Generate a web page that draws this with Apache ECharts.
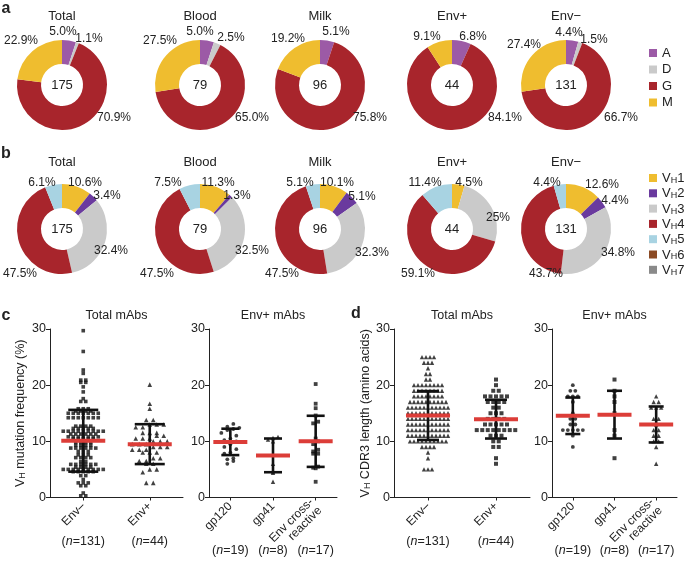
<!DOCTYPE html>
<html><head><meta charset="utf-8">
<script src="https://cdn.jsdelivr.net/npm/echarts/dist/echarts.min.js"></script>
<style>html,body{margin:0;padding:0;background:#fff}#chart{width:685px;height:565px}</style>
</head><body><div id="chart"></div>
<script>
// ================= DATA =================
const pieTitles = ['Total', 'Blood', 'Milk', 'Env+', 'Env\u2212'];
const pieN = [175, 79, 96, 44, 131];

const isoNames = ['A', 'D', 'G', 'M'];
const isoTotal  = [5.0, 1.1, 70.9, 22.9];
const isoBlood  = [5.0, 2.5, 65.0, 27.5];
const isoMilk   = [5.1, 0, 75.8, 19.2];
const isoEnvPos = [6.8, 0, 84.1, 9.1];
const isoEnvNeg = [4.4, 1.5, 66.7, 27.4];

const vhNames = ['VH1', 'VH2', 'VH3', 'VH4', 'VH5', 'VH6', 'VH7'];
const vhTotal  = [10.6, 3.4, 32.4, 47.5, 6.1, 0, 0];
const vhBlood  = [11.3, 1.3, 32.5, 47.5, 7.5, 0, 0];
const vhMilk   = [10.1, 5.1, 32.3, 47.5, 5.1, 0, 0];
const vhEnvPos = [4.5, 0, 25, 59.1, 11.4, 0, 0];
const vhEnvNeg = [12.6, 4.4, 34.8, 43.7, 4.4, 0, 0];

const catTotal = ['Env\u2013', 'Env+'];
const catEnv = ['gp120', 'gp41', 'Env cross-\nreactive'];
const yTicks = [0, 10, 20, 30];

// V_H mutation frequency (%)
const mutEnvNeg = [29.7, 26.0, 22.7, 22.1, 20.9, 20.9, 20.5, 20.5, 19.7, 18.8, 17.6, 17.1, 17.1,
  15.8, 15.8, 15.8, 15.4, 15.4, 15.4, 15.4,
  15.0, 15.0, 15.0, 15.0, 15.0, 15.0, 15.0,
  14.2, 14.2, 14.2, 14.2, 14.2, 14.2, 14.2,
  12.7, 12.7, 12.7, 12.7,
  12.3, 12.3, 12.3, 12.3, 12.3,
  11.8, 11.8, 11.8, 11.8, 11.8, 11.8, 11.8, 11.8, 11.8,
  11.3, 11.3, 11.3, 11.3, 11.3, 11.3,
  10.8, 10.8, 10.8, 10.8, 10.8, 10.8, 10.8,
  10.4, 10.4, 10.4, 10.4, 10.4,
  9.8, 9.8, 9.8, 9.8,
  9.3, 9.3, 9.3, 9.3,
  8.8, 8.8, 8.8, 8.8, 8.8, 8.8,
  8.2, 8.2, 8.2,
  7.6, 7.6, 7.6,
  7.1, 7.1, 7.1, 7.1,
  6.4, 6.4,
  5.9, 5.9, 5.9, 5.9, 5.9, 5.9,
  5.4, 5.4, 5.4, 5.4,
  5.0, 5.0, 5.0, 5.0, 5.0, 5.0, 5.0, 5.0, 5.0,
  4.6, 4.6, 4.6, 4.6, 4.6,
  3.9, 3.9, 3.2, 2.6, 2.6, 2.6, 2.1, 2.1, 0.8, 0.3, 0.3];
const mutEnvPos = [20.1, 16.7, 15.8, 13.8, 13.8, 13.0, 13.0, 13.0, 12.5, 12.5, 11.5, 11.5, 11.5,
  11.0, 11.0, 10.5, 10.5, 10.5, 10.0, 10.0, 10.0, 9.5, 9.5, 9.5, 9.0, 9.0, 9.0, 8.5, 8.5, 8.5,
  8.0, 8.0, 8.0, 7.0, 7.0, 6.5, 6.5, 6.0, 6.0, 5.0, 5.0, 4.5, 2.6, 2.6];
const mutGp120 = [13.1, 12.6, 12.4, 12.2, 12.0, 11.5, 11.0, 10.5, 10.2, 10.0, 9.5, 9.0, 8.6, 8.0, 7.8, 7.0, 6.8, 6.5, 6.0];
const mutGp41 = [10.8, 10.6, 10.3, 10.0, 6.0, 4.6, 4.4, 2.8];
const mutCross = [20.2, 16.7, 15.9, 14.6, 13.5, 13.2, 10.5, 10.0, 9.5, 8.5, 8.2, 7.8, 7.8, 5.5, 5.3, 5.2, 2.8];
const mutTotalMean = [10.1, 9.5];
const mutTotalSd = [5.5, 3.55];
const mutEnvMean = [9.9, 7.5, 10.0];
const mutEnvSd = [2.35, 3.0, 4.55];

// V_H CDR3 length (amino acids)
const cdrEnvNeg = [25, 25, 25, 25, 24, 24, 24, 23, 22, 22, 21, 21,
  20, 20, 20, 20, 20, 20, 20, 20,
  19, 19, 19, 19, 19, 19, 19, 19,
  18, 18, 18, 18, 18, 18, 18, 18,
  17, 17, 17, 17, 17, 17, 17, 17, 17, 17,
  16, 16, 16, 16, 16, 16, 16, 16, 16, 16, 16,
  15, 15, 15, 15, 15, 15, 15, 15, 15, 15, 15,
  14, 14, 14, 14, 14, 14, 14, 14, 14, 14, 14,
  13, 13, 13, 13, 13, 13, 13, 13, 13, 13, 13,
  12, 12, 12, 12, 12, 12, 12, 12, 12, 12, 12,
  11, 11, 11, 11, 11, 11, 11, 11, 11, 11, 11,
  10, 10, 10, 10, 10, 10, 10, 10, 10, 10,
  9, 9, 9, 9, 8, 7, 5, 5, 5];
const cdrEnvPos = [21, 20, 19, 19, 18, 18, 18, 18, 18, 17, 17, 17, 17, 16, 16, 15, 15, 15,
  14, 14, 14, 14, 13, 13, 13, 13, 13, 12, 12, 12, 12, 12, 12, 12, 12, 11, 11, 11, 10, 10, 9, 9, 7, 6];
const cdrGp120 = [20, 19, 19, 18, 18, 18, 17, 15, 14, 14, 13, 13, 12, 12, 12, 12, 12, 11, 9];
const cdrGp41 = [21, 19, 18, 17, 15, 12, 11, 7];
const cdrCross = [18, 17, 17, 16, 16, 16, 14, 14, 13, 12, 12, 11, 11, 10, 10, 9, 6];
const cdrTotalMean = [14.6, 13.95];
const cdrTotalSd = [4.35, 3.45];
const cdrEnvMean = [14.55, 14.75, 13.0];
const cdrEnvSd = [3.25, 4.25, 3.2];

// ================= STYLE / LAYOUT =================
const FONT = '"Liberation Sans", Arial, Helvetica, sans-serif';
const TXT = '#222';
const isoColors = ['#9c5aa6', '#cacaca', '#a8252c', '#efbd2f'];
const vhColors = ['#efbd2f', '#6a3a9e', '#cacaca', '#a8252c', '#a8d3e2', '#8b4a24', '#8a8a8a'];
const pieCx = [62, 200, 320, 452, 566];
const rowCy = [85, 229];
const labelOffA = [
  [[1, -53], [27, -46], [52, 33], [-41, -44]],
  [[0, -53], [31, -47], [52, 33], [-40, -44]],
  [[16, -53], null, [50, 33], [-32, -46]],
  [[21, -48], null, [53, 33], [-25, -48]],
  [[3, -52], [28, -45], [55, 33], [-42, -40]]
];
const labelOffB = [
  [[23, -46], [45, -33], [49, 22], [-42, 45], [-20, -46]],
  [[18, -46], [37, -33], [52, 22], [-43, 45], [-32, -46]],
  [[17, -46], [42, -32], [52, 24], [-38, 45], [-20, -46]],
  [[17, -46], null, [46, -11], [-34, 45], [-27, -46]],
  [[36, -44], [49, -28], [52, 24], [-20, 45], [-19, -46]]
];

function pieSeries(row, i, names, vals, colors, fmt, offs) {
  const cx = pieCx[i], cy = rowCy[row];
  return {
    type: 'pie', center: [cx, cy], radius: [21, 45], startAngle: 90, clockwise: true,
    avoidLabelOverlap: false, silent: true, animation: false,
    data: names.map((n, k) => ({ name: n, value: vals[k], itemStyle: { color: colors[k] } })),
    label: { show: true, position: 'outside', formatter: p => p.value > 0 ? fmt(p.value) : '',
      fontSize: 12, color: TXT, fontFamily: FONT },
    labelLine: { show: false },
    labelLayout: p => {
      const o = offs[p.dataIndex];
      return o ? { x: cx + o[0], y: cy + o[1], align: 'center', verticalAlign: 'middle' } : {};
    }
  };
}

const series = [];
[isoTotal, isoBlood, isoMilk, isoEnvPos, isoEnvNeg].forEach((v, i) =>
  series.push(pieSeries(0, i, isoNames, v, isoColors, x => x.toFixed(1) + '%', labelOffA[i])));
[vhTotal, vhBlood, vhMilk, vhEnvPos, vhEnvNeg].forEach((v, i) =>
  series.push(pieSeries(1, i, vhNames, v, vhColors, x => String(x) + '%', labelOffB[i])));

function swarm(vals, cat, bin, gap) {
  const groups = new Map();
  vals.forEach(v => { const k = Math.round(v / bin); if (!groups.has(k)) groups.set(k, []); groups.get(k).push(v); });
  const out = [];
  groups.forEach(arr => {
    arr.sort((a, b) => a - b);
    const n = arr.length;
    arr.forEach((v, j) => out.push({ value: [cat, v], symbolOffset: [(j - (n - 1) / 2) * gap, 0] }));
  });
  return out;
}

const GRID_TOP = 329, GRID_H = 168.5;
const panels = [
  { left: 50, width: 133, cats: catTotal, groups: [mutEnvNeg, mutEnvPos], mean: mutTotalMean, sd: mutTotalSd,
    sym: ['rect', 'triangle'], size: [3.6, 4.6], bin: [0.01, 1], gap: [5, 7], cap: 30, mw: 44, nOff: 38,
    yname: '{n|V}{s|H}{n| mutation frequency (%)}', nameGap: 23, title: 'Total mAbs' },
  { left: 209, width: 128, cats: catEnv, groups: [mutGp120, mutGp41, mutCross], mean: mutEnvMean, sd: mutEnvSd,
    sym: ['circle', 'triangle', 'rect'], size: [3.8, 4.4, 3.8], bin: [1.2, 0.7, 0.7], gap: [6, 5, 5], cap: 18, mw: 34, nOff: 47,
    yname: '', nameGap: 0, title: 'Env+ mAbs' },
  { left: 394, width: 136, cats: catTotal, groups: [cdrEnvNeg, cdrEnvPos], mean: cdrTotalMean, sd: cdrTotalSd,
    sym: ['triangle', 'rect'], size: [4.4, 4], bin: [1, 1], gap: [4, 5.5], cap: 22, mw: 44, nOff: 38,
    yname: '{n|V}{s|H}{n| CDR3 length (amino acids)}', nameGap: 21, title: 'Total mAbs' },
  { left: 552, width: 125, cats: catEnv, groups: [cdrGp120, cdrGp41, cdrCross], mean: cdrEnvMean, sd: cdrEnvSd,
    sym: ['circle', 'rect', 'triangle'], size: [3.8, 4, 4.4], bin: [1, 1, 1], gap: [5, 5, 5], cap: 15, mw: 34, nOff: 47,
    yname: '', nameGap: 0, title: 'Env+ mAbs' }
];

const grids = [], xAxes = [], yAxes = [], nAxes = [];
const graphics = [];
function txt(x, y, text, font, extra) {
  graphics.push(Object.assign({ type: 'text', x: x, y: y, silent: true,
    style: { text: text, font: font || ('12.5px ' + FONT), fill: TXT, align: 'center', verticalAlign: 'middle',
      textAlign: 'center', textVerticalAlign: 'middle' } }, extra || {}));
}
const richName = {
  n: { fontSize: 12.5, fontFamily: FONT, color: TXT, lineHeight: 16, verticalAlign: 'bottom' },
  s: { fontSize: 9, fontFamily: FONT, color: TXT, lineHeight: 10, verticalAlign: 'bottom' }
};

panels.forEach((p, g) => {
  grids.push({ left: p.left, top: GRID_TOP, width: p.width, height: GRID_H, containLabel: false, outerBoundsMode: 'none' });
  xAxes.push({ type: 'category', gridIndex: g, data: p.cats, boundaryGap: true,
    axisLine: { show: true, lineStyle: { color: '#222', width: 1 } },
    axisTick: { show: true, alignWithLabel: true, length: 3, lineStyle: { color: '#222' } },
    axisLabel: { interval: 0, rotate: 45, margin: 7, fontSize: 12, color: TXT, fontFamily: FONT, hideOverlap: false },
    splitLine: { show: false } });
  const counts = p.groups.map(a => a.length);
  nAxes.push({ type: 'category', gridIndex: g, data: p.cats, position: 'bottom', offset: p.nOff, boundaryGap: true,
    axisLine: { show: false }, axisTick: { show: false }, splitLine: { show: false },
    axisLabel: { interval: 0, margin: 0, formatter: (v, i) => '{n|(}{i|n}{n|=' + counts[i] + ')}',
      rich: { n: { fontSize: 12.5, fontFamily: FONT, color: TXT }, i: { fontSize: 12.5, fontFamily: FONT, color: TXT, fontStyle: 'italic' } } } });
  yAxes.push({ type: 'value', gridIndex: g, min: yTicks[0], max: yTicks[yTicks.length - 1], interval: yTicks[1] - yTicks[0],
    axisLine: { show: true, lineStyle: { color: '#222', width: 1 } },
    axisTick: { show: true, length: 4, lineStyle: { color: '#222' } },
    splitLine: { show: false },
    axisLabel: { fontSize: 12.5, color: TXT, fontFamily: FONT, margin: 4 },
    name: p.yname, nameLocation: 'middle', nameGap: p.nameGap, nameRotate: 90,
    nameTextStyle: { fontSize: 12.5, color: TXT, fontFamily: FONT, rich: richName } });
  p.groups.forEach((vals, k) => {
    series.push({ type: 'scatter', xAxisIndex: g, yAxisIndex: g, silent: true, animation: false,
      symbol: p.sym[k], symbolSize: p.size[k], itemStyle: { color: '#111' },
      data: swarm(vals, k, p.bin[k], p.gap[k]), z: 3 });
  });
  series.push({ type: 'custom', xAxisIndex: g, yAxisIndex: g, z: 10, silent: true, animation: false,
    data: p.mean.map((m, k) => [k, m, p.sd[k]]),
    renderItem: (params, api) => {
      const k = api.value(0), m = api.value(1), s = api.value(2);
      const c = api.coord([k, m]), hi = api.coord([k, m + s]), lo = api.coord([k, m - s]);
      const blk = () => ({ stroke: '#111', lineWidth: 2.6 });
      return { type: 'group', children: [
        { type: 'line', shape: { x1: c[0], y1: hi[1], x2: c[0], y2: lo[1] }, style: blk() },
        { type: 'line', shape: { x1: c[0] - p.cap / 2, y1: hi[1], x2: c[0] + p.cap / 2, y2: hi[1] }, style: blk() },
        { type: 'line', shape: { x1: c[0] - p.cap / 2, y1: lo[1], x2: c[0] + p.cap / 2, y2: lo[1] }, style: blk() },
        { type: 'line', shape: { x1: c[0] - p.mw / 2, y1: c[1], x2: c[0] + p.mw / 2, y2: c[1] }, style: { stroke: '#dc3d38', lineWidth: 4 } }
      ] };
    } });
  txt(p.left + p.width / 2, 316, p.title);
});

// pie titles and centre counts
pieTitles.forEach((t, i) => {
  txt(pieCx[i], 16, t, '13px ' + FONT);
  txt(pieCx[i], 162, t, '13px ' + FONT);
  txt(pieCx[i], rowCy[0], String(pieN[i]), '13px ' + FONT);
  txt(pieCx[i], rowCy[1], String(pieN[i]), '13px ' + FONT);
});
// panel letters
txt(6, 9, 'a', 'bold 16px ' + FONT);
txt(6, 154, 'b', 'bold 16px ' + FONT);
txt(6, 316, 'c', 'bold 16px ' + FONT);
txt(356, 314, 'd', 'bold 16px ' + FONT);

const chart = echarts.init(document.getElementById('chart'), null, { renderer: 'canvas' });
chart.setOption({
  backgroundColor: '#fff',
  animation: false,
  textStyle: { fontFamily: FONT },
  legend: [
    { data: isoNames, orient: 'vertical', left: 649, top: 46, icon: 'rect', itemWidth: 8, itemHeight: 8, itemGap: 2.5,
      selectedMode: false, textStyle: { fontSize: 13, color: TXT, fontFamily: FONT, lineHeight: 14 }, padding: 0 },
    { data: vhNames, orient: 'vertical', left: 649, top: 171, icon: 'rect', itemWidth: 8, itemHeight: 8, itemGap: 1.3,
      selectedMode: false, padding: 0,
      formatter: n => '{n|V}{s|H}{n|' + n.slice(2) + '}',
      textStyle: { fontSize: 13, color: TXT, fontFamily: FONT, lineHeight: 14,
        rich: { n: { fontSize: 13, fontFamily: FONT, color: TXT, lineHeight: 14, verticalAlign: 'bottom' },
                s: { fontSize: 9, fontFamily: FONT, color: TXT, lineHeight: 9, verticalAlign: 'bottom' } } } }
  ],
  grid: grids,
  xAxis: xAxes.concat(nAxes),
  yAxis: yAxes,
  graphic: graphics,
  series: series
});
</script>
</body></html>
